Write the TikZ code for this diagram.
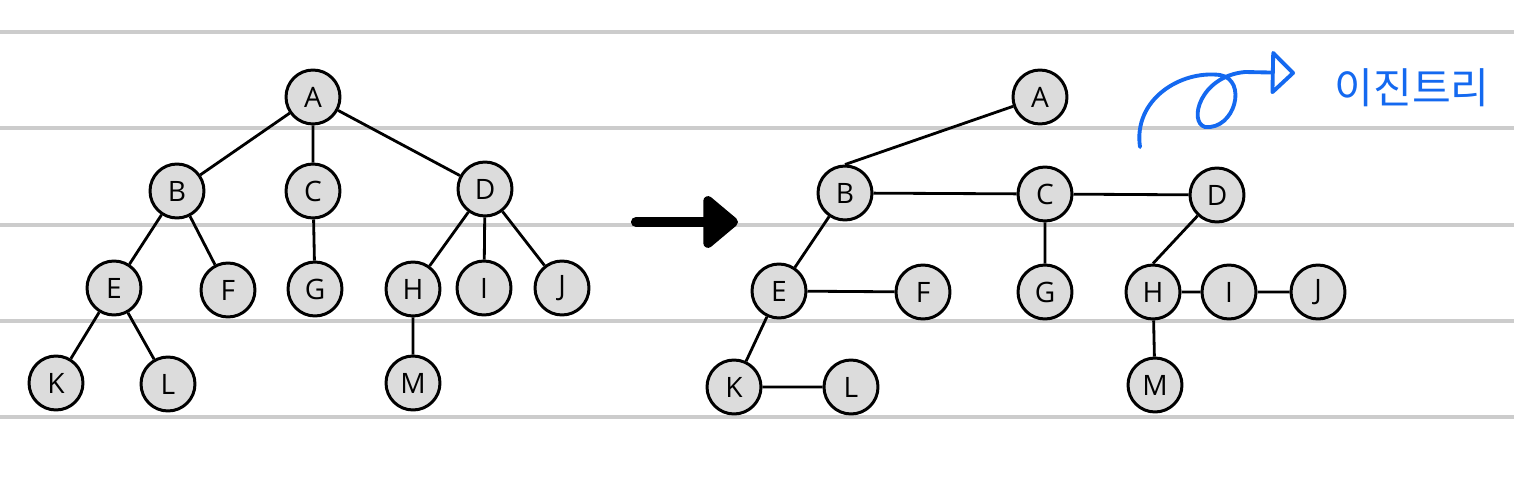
\documentclass[tikz,border=0pt]{standalone}
\usepackage{fontspec}
\setsansfont{Open Sans}
\newfontfamily\krfont{Noto Sans CJK KR}
\usetikzlibrary{arrows.meta}
\definecolor{ruleline}{HTML}{CCCCCC}
\definecolor{nodegray}{HTML}{DCDCDC}
\definecolor{penblue}{HTML}{1469F0}
\tikzset{
  vtx/.style={circle,draw,line width=1.7pt,fill=nodegray,minimum size=1.08cm,inner sep=0pt,
    font=\sffamily\fontsize{16}{18}\selectfont},
  edge/.style={line width=1.6pt},
  bigarrow/.style={line width=5.8pt,line cap=round,-{Triangle[round,length=0.75cm,width=1.2cm]}},
}
\begin{document}
\begin{tikzpicture}[x=0.02cm,y=-0.02cm,line join=round]
	\useasboundingbox (0,0) rectangle (1514,490);
	% notebook lines
	\foreach \yy in {32,128,225,321,417}
		\draw[ruleline,line width=1.8pt] (0,\yy)--(1514,\yy);
	% general tree
	\path (313,97)node[vtx](A){A} (177,191)node[vtx](B){B} (313,191)node[vtx](C){C} (485,189)node[vtx](D){D}
		(114,288)node[vtx](E){E} (228,290)node[vtx](F){F} (315,289)node[vtx](G){G}
		(413,289)node[vtx](H){H} (484,288)node[vtx](I){I} (562,288)node[vtx](J){J}
		(56,383)node[vtx](K){K} (168,384)node[vtx](L){L} (413,383)node[vtx](M){M};
	\draw[edge] (A)--(B) (A)--(C) (A)--(D) (B)--(E) (B)--(F) (C)--(G)
		(D)--(H) (D)--(I) (D)--(J) (E)--(K) (E)--(L) (H)--(M);
	% arrow
	\path (636,222)coordinate(arrS) (738,222)coordinate(arrE);
	\draw[bigarrow] (arrS)--(arrE);
	% binary tree
	\path (1040,97)node[vtx](A'){A} (845,193)node[vtx](B'){B} (1045,194)node[vtx](C'){C} (1217,195)node[vtx](D'){D}
		(779,291)node[vtx](E'){E} (923,292)node[vtx](F'){F} (1045,292)node[vtx](G'){G}
		(1153,292)node[vtx](H'){H} (1229,292)node[vtx](I'){I} (1318,292)node[vtx](J'){J}
		(734,387)node[vtx](K'){K} (851,387)node[vtx](L'){L} (1155,385)node[vtx](M'){M};
	\draw[edge] (A')--(B'.north) (B')--(C') (C')--(D') (B')--(E') (E')--(F') (E')--(K') (K')--(L')
		(C')--(G') (D')--(H'.north) (H')--(I') (I')--(J') (H')--(M');
	% note
	\node[penblue,font=\krfont\fontsize{24}{26}\selectfont](note) at (1412,88){이진트리};
	\draw[penblue,line width=2.2pt,line cap=round,-{Triangle[open,round,length=0.5cm,width=0.95cm]}]
		(1140,147) .. controls (1133,100) and (1180,70) .. (1220,75)
		.. controls (1248,80) and (1235,130) .. (1205,127)
		.. controls (1188,122) and (1200,76) .. (1245,72) -- (1295,73);
\end{tikzpicture}
\end{document}
